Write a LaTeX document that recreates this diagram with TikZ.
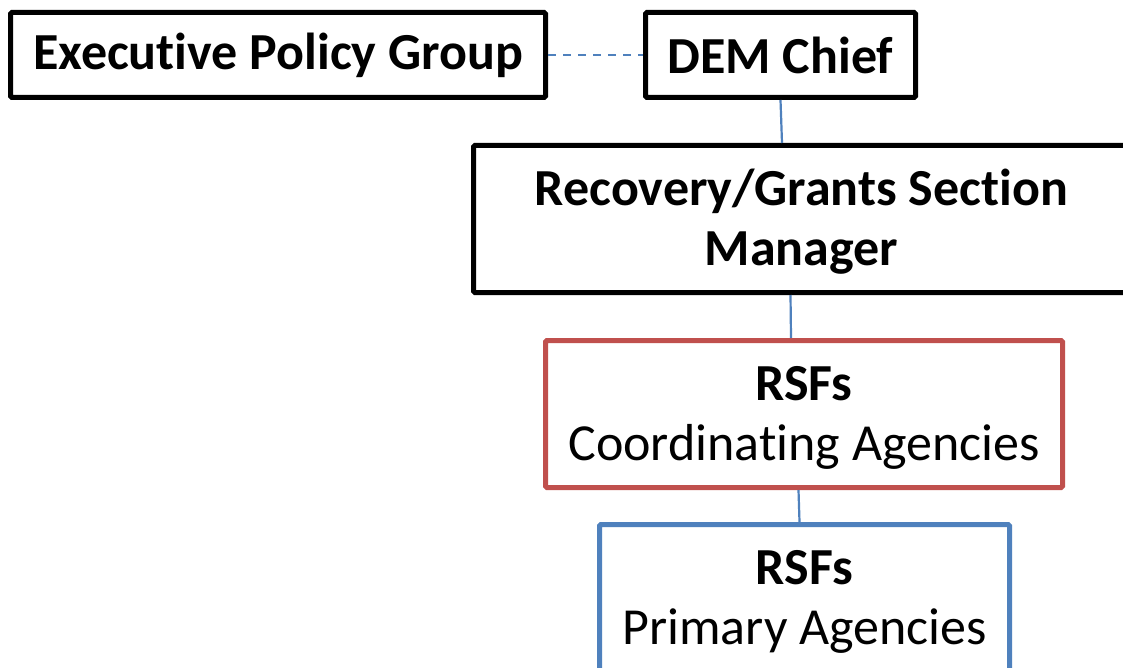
\documentclass[tikz,border=0pt]{standalone}
\usepackage{fontspec}
\setmainfont[Ligatures=NoCommon]{Carlito}
\definecolor{boxred}{HTML}{C0504D}
\definecolor{boxblue}{HTML}{4F81BD}
\definecolor{linkblue}{HTML}{4F81BD}
\begin{document}
\begin{tikzpicture}[x=1pt,y=-1pt,
  orgbox/.style={draw=black,line width=5pt,inner sep=0pt,rounded corners=1.5pt,
    align=center,font=\fontsize{52}{60}\selectfont,fill=white},
  twoline/.style={text height=105pt,text depth=12pt},
  link/.style={draw=linkblue,line width=2.2pt},
  dlink/.style={draw=linkblue,line width=2.4pt,dash pattern=on 8pt off 7pt}]
\useasboundingbox (0,0) rectangle (1123,668);
\clip (0,0) rectangle (1123,668);
\fill[white] (0,0) rectangle (1123,668);
\node[orgbox,minimum width=535pt,minimum height=85pt] (epg) at (278,55) {\textbf{Executive Policy Group}};
\node[orgbox,minimum width=270pt,minimum height=85pt] (dem) at (780.5,55) {\textbf{DEM Chief}};
\node[orgbox,twoline,minimum width=656pt,minimum height=147pt] (rec) at (801.5,219) {\textbf{Recovery/Grants Section}\\\textbf{Manager}};
\node[orgbox,twoline,draw=boxred,minimum width=517pt,minimum height=147pt] (rsf) at (804,414) {\textbf{RSFs}\\Coordinating Agencies};
\node[orgbox,twoline,draw=boxblue,minimum width=410pt,minimum height=147pt] (prim) at (804.5,598) {\textbf{RSFs}\\Primary Agencies};
\draw[dlink] (epg.east) -- (dem.west);
\draw[link] (dem.south) -- ([xshift=-19.5pt]rec.north);
\draw[link] ([xshift=-11pt]rec.south) -- ([xshift=-13pt]rsf.north);
\draw[link] ([xshift=-5.5pt]rsf.south) -- ([xshift=-5pt]prim.north);
\end{tikzpicture}
\end{document}
